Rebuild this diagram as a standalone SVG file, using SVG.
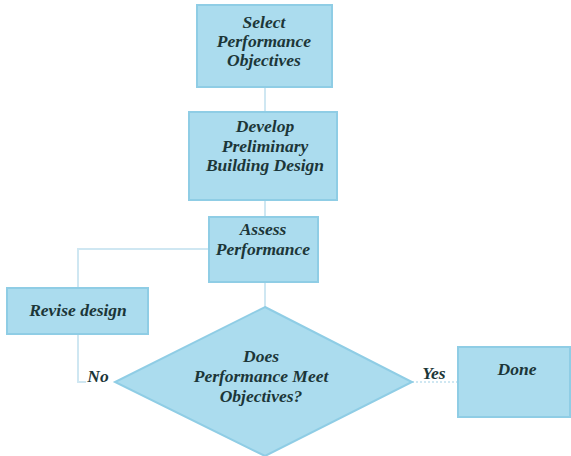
<svg xmlns="http://www.w3.org/2000/svg" width="571" height="456" viewBox="0 0 571 456">
<style>
.n{fill:#abdcee;stroke:#8fcde5;stroke-width:2}
.t{font-family:"Liberation Serif",serif;font-weight:bold;font-style:italic;font-size:17.5px;fill:#1c3638;text-anchor:middle}
.c{fill:none;stroke:#cfe7f2;stroke-width:2}
</style>
<rect width="571" height="456" fill="#ffffff"/>
<g id="connectors">
<line class="c" x1="265" y1="87" x2="265" y2="112"/>
<line class="c" x1="265" y1="200" x2="265" y2="217"/>
<line class="c" x1="265" y1="282" x2="265" y2="307"/>
<polyline class="c" points="209,249 78,249 78,288"/>
<polyline class="c" points="78,334 78,382 86,382"/>
<line class="c" x1="412" y1="382" x2="458" y2="382" stroke-dasharray="2 2"/>
</g>
<g id="select">
<rect class="n" x="197" y="5" width="135" height="82"/>
<text class="t" x="264" y="28">Select</text>
<text class="t" x="264" y="47">Performance</text>
<text class="t" x="264" y="66">Objectives</text>
</g>
<g id="develop">
<rect class="n" x="189" y="112" width="148" height="88"/>
<text class="t" x="265" y="132">Develop</text>
<text class="t" x="265" y="152">Preliminary</text>
<text class="t" x="265" y="171">Building Design</text>
</g>
<g id="assess">
<rect class="n" x="209" y="217" width="109" height="65"/>
<text class="t" x="263" y="235">Assess</text>
<text class="t" x="263" y="255">Performance</text>
</g>
<g id="revise">
<rect class="n" x="7" y="288" width="141" height="46"/>
<text class="t" x="78" y="316">Revise design</text>
</g>
<g id="decision">
<polygon class="n" points="265,307 412,382 265,456 115,382"/>
<text class="t" x="261" y="362">Does</text>
<text class="t" x="261" y="382">Performance Meet</text>
<text class="t" x="261" y="402">Objectives?</text>
</g>
<g id="done">
<rect class="n" x="458" y="347" width="112" height="70"/>
<text class="t" x="517" y="375">Done</text>
</g>
<text class="t" x="98" y="382">No</text>
<text class="t" x="434" y="379">Yes</text>
</svg>
